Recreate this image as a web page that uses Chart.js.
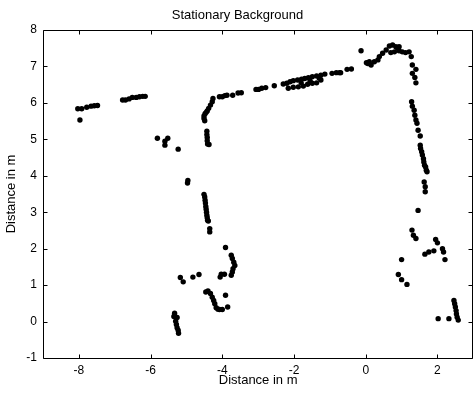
<!DOCTYPE html>
<html>
<head>
<meta charset="utf-8">
<script src="https://cdn.jsdelivr.net/npm/chart.js@4.4.1/dist/chart.umd.min.js"></script>
<style>
    html, body { margin: 0; padding: 0; background: #fff; }
    #wrap { width: 476px; height: 394px; }
</style>
</head>
<body>
<div id="wrap"><canvas id="chart" width="476" height="394"></canvas></div>
<script>
// Far left wall
const leftX = [-8.03, -7.92, -7.97, -7.78, -7.66, -7.57, -7.48];
const leftY = [5.84, 5.84, 5.53, 5.88, 5.91, 5.92, 5.93];

// Second wall piece
const wallX = [-6.78, -6.70, -6.60, -6.51, -6.40, -6.31, -6.22, -6.15];
const wallY = [6.08, 6.08, 6.11, 6.15, 6.15, 6.17, 6.18, 6.18];

// Loose points around (-5.5, 5)
const looseX = [-5.81, -5.60, -5.60, -5.52, -5.23, -4.96, -4.97];
const looseY = [5.03, 4.95, 4.84, 5.03, 4.73, 3.87, 3.80];

// Corner near x = -4.4, upper part
const cornerX = [-4.49, -4.51, -4.51, -4.48, -4.45, -4.42, -4.38, -4.33, -4.28, -4.26,
    -4.43, -4.43, -4.42, -4.42, -4.41, -4.37];
const cornerY = [5.51, 5.57, 5.64, 5.70, 5.74, 5.78, 5.85, 5.94, 6.03, 6.12,
    5.22, 5.13, 5.05, 4.96, 4.87, 4.86];

// Long top wall
const topX = [-4.08, -4.00, -3.93, -3.87, -3.71, -3.56, -3.47, -3.06, -2.99, -2.90, -2.79,
    -2.55, -2.30, -2.20, -2.11, -2.02, -1.90, -1.79, -1.70, -1.60, -1.49, -1.37, -1.25, -1.14,
    -0.94, -0.82, -0.70, -0.52, -0.40, -0.73,
    -2.16, -2.02, -1.88, -1.74, -1.62, -1.49, -1.37, -1.25, -1.80, -1.55, -1.30];
const topY = [6.17, 6.17, 6.20, 6.21, 6.21, 6.27, 6.28, 6.37, 6.37, 6.40, 6.42,
    6.47, 6.52, 6.54, 6.58, 6.61, 6.63, 6.65, 6.67, 6.69, 6.72, 6.74, 6.76, 6.79,
    6.81, 6.83, 6.83, 6.92, 6.93, 6.83,
    6.40, 6.43, 6.44, 6.46, 6.51, 6.54, 6.55, 6.63, 6.55, 6.60, 6.68];

// Peak around x = 0..1.3
const peakX = [-0.13, 0.02, 0.06, 0.10, 0.15, 0.24, 0.34, 0.38, 0.47, 0.57, 0.66, 0.75, 0.84,
    0.89, 0.93, 1.02, 1.11, 1.21, 1.27, 0.70, 0.80, 0.93];
const peakY = [7.43, 7.10, 7.08, 7.13, 7.04, 7.13, 7.18, 7.27, 7.36, 7.45, 7.56, 7.59, 7.54,
    7.50, 7.43, 7.40, 7.38, 7.40, 7.27, 7.38, 7.40, 7.54];

// Right wall going down
const rightX = [1.30, 1.40, 1.30, 1.37, 1.40, 1.28, 1.30, 1.35, 1.37, 1.40, 1.43, 1.46, 1.52,
    1.52, 1.53, 1.56, 1.58, 1.61, 1.62, 1.64, 1.67, 1.69, 1.71, 1.63, 1.66, 1.66];
const rightY = [7.04, 6.92, 6.81, 6.70, 6.55, 6.03, 5.91, 5.80, 5.66, 5.53, 5.44, 5.25, 5.09,
    4.84, 4.75, 4.66, 4.57, 4.47, 4.38, 4.29, 4.24, 4.15, 4.11, 3.83, 3.70, 3.56];

// Scatter right of the wall
const lowRightX = [1.46, 1.29, 1.33, 1.40, 1.95, 2.00, 2.14, 2.17, 2.21, 1.65, 1.76, 1.90,
    1.00, 0.91, 1.00, 1.15, 2.02, 2.32, 2.46, 2.48, 2.50, 2.52, 2.53, 2.55, 2.58];
const lowRightY = [3.05, 2.51, 2.37, 2.28, 2.25, 2.16, 2.00, 1.91, 1.70, 1.85, 1.91, 1.94,
    1.70, 1.29, 1.15, 1.02, 0.08, 0.08, 0.58, 0.49, 0.40, 0.30, 0.21, 0.12, 0.04];

// Middle wall, lower part
const midX = [-4.51, -4.49, -4.48, -4.47, -4.46, -4.45, -4.44, -4.43, -4.42, -4.41, -4.39, -4.35, -4.35];
const midY = [3.49, 3.42, 3.33, 3.25, 3.16, 3.08, 3.00, 2.92, 2.85, 2.78, 2.76, 2.55, 2.46];

// Clusters near the bottom
const lowX = [-5.17, -5.09, -4.82, -4.65, -4.06, -4.03, -3.94, -3.91,
    -3.75, -3.72, -3.68, -3.65, -3.70, -3.72, -3.75,
    -4.46, -4.40, -4.33, -4.28, -4.24, -4.21, -4.17, -4.12, -4.08, -4.00, -3.91, -3.85];
const lowY = [1.21, 1.09, 1.22, 1.29, 1.22, 1.30, 1.30, 2.03,
    1.82, 1.73, 1.63, 1.54, 1.45, 1.36, 1.27,
    0.81, 0.84, 0.77, 0.67, 0.58, 0.49, 0.38, 0.34, 0.33, 0.33, 0.72, 0.40];

// Bottom left cluster
const bottomX = [-5.33, -5.35, -5.26, -5.30, -5.28, -5.26, -5.23, -5.22];
const bottomY = [0.23, 0.14, 0.11, 0.01, -0.08, -0.17, -0.24, -0.32];

const xTicks = [-8, -6, -4, -2, 0, 2];
const yTicks = [-1, 0, 1, 2, 3, 4, 5, 6, 7, 8];

const groups = [
    [leftX, leftY], [wallX, wallY], [looseX, looseY], [cornerX, cornerY],
    [topX, topY], [peakX, peakY], [rightX, rightY], [lowRightX, lowRightY],
    [midX, midY], [lowX, lowY], [bottomX, bottomY]
];

const points = [];
groups.forEach(([xs, ys]) => {
    xs.forEach((x, i) => points.push({ x: x, y: ys[i] }));
});

// Box round the plot with inward ticks on all four sides
const axisBox = {
    id: 'axisBox',
    afterDraw(chart) {
        const { ctx, chartArea: a, scales } = chart;
        const l = Math.round(a.left) + 0.5;
        const r = Math.round(a.right) - 0.5;
        const t = Math.round(a.top) + 0.5;
        const b = Math.round(a.bottom) + 0.5;
        const len = 4;
        ctx.save();
        ctx.strokeStyle = '#000';
        ctx.lineWidth = 1;
        ctx.beginPath();
        ctx.rect(l, t, r - l, b - t);
        scales.x.ticks.forEach(tk => {
            const px = Math.round(scales.x.getPixelForValue(tk.value)) + 0.5;
            ctx.moveTo(px, b); ctx.lineTo(px, b - len);
            ctx.moveTo(px, t); ctx.lineTo(px, t + len);
        });
        scales.y.ticks.forEach(tk => {
            const py = Math.round(scales.y.getPixelForValue(tk.value)) + 0.5;
            ctx.moveTo(l, py); ctx.lineTo(l + len, py);
            ctx.moveTo(r, py); ctx.lineTo(r - len, py);
        });
        ctx.stroke();
        ctx.restore();
    }
};

Chart.defaults.font.family = '"Liberation Sans", Arial, sans-serif';
Chart.defaults.color = '#000';

new Chart(document.getElementById('chart'), {
    type: 'scatter',
    data: {
        datasets: [{
            data: points,
            backgroundColor: '#000',
            borderWidth: 0,
            pointRadius: 2.7,
            pointHoverRadius: 2.7
        }]
    },
    options: {
        responsive: false,
        animation: false,
        layout: { padding: { left: 0, right: 1, top: 0, bottom: 0 } },
        plugins: {
            legend: { display: false },
            tooltip: { enabled: false },
            title: {
                display: true,
                text: 'Stationary Background',
                color: '#000',
                font: { size: 13, weight: 'normal' },
                padding: { top: 8, bottom: 6.4 }
            }
        },
        scales: {
            x: {
                type: 'linear',
                min: -9,
                max: 3,
                afterBuildTicks: s => { s.ticks = xTicks.map(v => ({ value: v })); },
                afterFit: s => { s.height = 36; },
                grid: { display: false, drawTicks: false },
                border: { display: false },
                ticks: { font: { size: 12 }, padding: 5, color: '#000' },
                title: {
                    display: true,
                    text: 'Distance in m',
                    font: { size: 13 },
                    padding: { top: 0, bottom: 6 }
                }
            },
            y: {
                type: 'linear',
                min: -1,
                max: 8,
                afterBuildTicks: s => { s.ticks = yTicks.map(v => ({ value: v })); },
                afterFit: s => { s.width = 43; },
                grid: { display: false, drawTicks: false },
                border: { display: false },
                ticks: { font: { size: 12 }, padding: 6, color: '#000' },
                title: {
                    display: true,
                    text: 'Distance in m',
                    font: { size: 13 },
                    padding: { top: 4, bottom: 0 }
                }
            }
        }
    },
    plugins: [axisBox]
});
</script>
</body>
</html>
